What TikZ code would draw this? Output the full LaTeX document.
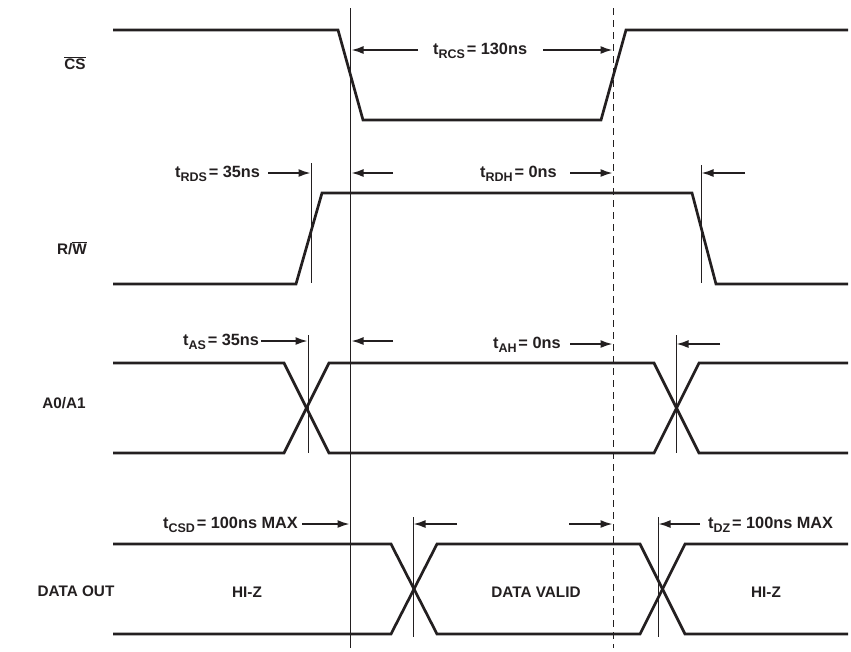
\documentclass[tikz,border=0pt]{standalone}
\usepackage{fontspec}
\setmainfont{Liberation Sans}
\usetikzlibrary{arrows.meta}
\definecolor{ink}{RGB}{35,31,32}
\newcommand{\tsub}[1]{\raisebox{-4pt}{\fontsize{12.5}{12.5}\selectfont #1}\kern1.8pt}
\begin{document}
\begin{tikzpicture}[x=1pt,y=-1pt,
  wave/.style={ink,line width=2.7pt,line join=miter},
  refline/.style={ink,line width=0.9pt},
  dashref/.style={ink,line width=1pt,dash pattern=on 7pt off 5pt},
  dim/.style={ink,line width=1.7pt,-{Latex[length=12pt,width=8pt]}},
  lbl/.style={font=\fontsize{15.3}{16}\selectfont\bfseries,text=ink,inner sep=0pt},
  tlbl/.style={font=\fontsize{16.3}{17}\selectfont\bfseries,text=ink,inner sep=0pt,anchor=base west}]
\useasboundingbox (0,0) rectangle (851,651);
% reference lines
\coordinate (mainT) at (350.5,8);  \coordinate (mainB) at (350.5,648);
\coordinate (dashT) at (613,8);    \coordinate (dashB) at (613,648);
\draw[refline] (mainT) -- (mainB);
\draw[dashref] (dashT) -- (dashB);
\draw[refline] (311,163) -- (311,283);
\draw[refline] (701,165) -- (701,283);
\draw[refline] (308,335) -- (308,453);
\draw[refline] (676,335) -- (676,453);
\draw[refline] (413,517) -- (413,637);
\draw[refline] (658,517) -- (658,637);
% signal labels
\node[lbl] (cs) at (75,63) {$\overline{\hbox{CS}}$};
\node[lbl] (rw) at (72,248) {R/$\overline{\hbox{W}}$};
\node[lbl] (addr) at (64,403) {A0/A1};
\node[lbl] (dout) at (76,591) {DATA OUT};
% CS
\draw[wave] (113,30) -- (338,30) -- (363,120) -- (601,120) -- (626,30) -- (848,30);
% R/W
\draw[wave] (113,284) -- (296,284) -- (322,193) -- (692,193) -- (716,284) -- (848,284);
% A0/A1
\draw[wave] (113,363) -- (284,363) -- (329,453) -- (654,453) -- (699,363) -- (848,363);
\draw[wave] (113,453) -- (284,453) -- (329,363) -- (654,363) -- (699,453) -- (848,453);
% DATA OUT
\draw[wave] (113,544) -- (391,544) -- (437,634) -- (640,634) -- (685,544) -- (848,544);
\draw[wave] (113,634) -- (391,634) -- (437,544) -- (640,544) -- (685,634) -- (848,634);
\node[lbl] (hiz1) at (247,592) {HI-Z};
\node[lbl] (valid) at (536,592) {DATA VALID};
\node[lbl] (hiz2) at (766,592) {HI-Z};
% timing labels and arrows
\node[tlbl] (trcs) at (433,54) {t\tsub{RCS}= 130ns};
\draw[dim] (418,50) -- (351.5,50);
\draw[dim] (543,50) -- (612.5,50);
\node[tlbl] (trds) at (175,177) {t\tsub{RDS}= 35ns};
\draw[dim] (268,173) -- (310.5,173);
\draw[dim] (393,173) -- (351.5,173);
\node[tlbl] (trdh) at (480,177) {t\tsub{RDH}= 0ns};
\draw[dim] (570,173) -- (612.5,173);
\draw[dim] (745,173) -- (701.5,173);
\node[tlbl] (tas) at (183,345) {t\tsub{AS}= 35ns};
\draw[dim] (261,341) -- (307.5,341);
\draw[dim] (393,341) -- (351.5,341);
\node[tlbl] (tah) at (493,348) {t\tsub{AH}= 0ns};
\draw[dim] (570,344) -- (612.5,344);
\draw[dim] (720,344) -- (676.5,344);
\node[tlbl] (tcsd) at (163,528) {t\tsub{CSD}= 100ns MAX};
\draw[dim] (302,524) -- (349.5,524);
\draw[dim] (457,524) -- (413.5,524);
\draw[dim] (569,524) -- (612.5,524);
\node[tlbl] (tdz) at (708,528) {t\tsub{DZ}= 100ns MAX};
\draw[dim] (700,524) -- (658.5,524);
\end{tikzpicture}
\end{document}
